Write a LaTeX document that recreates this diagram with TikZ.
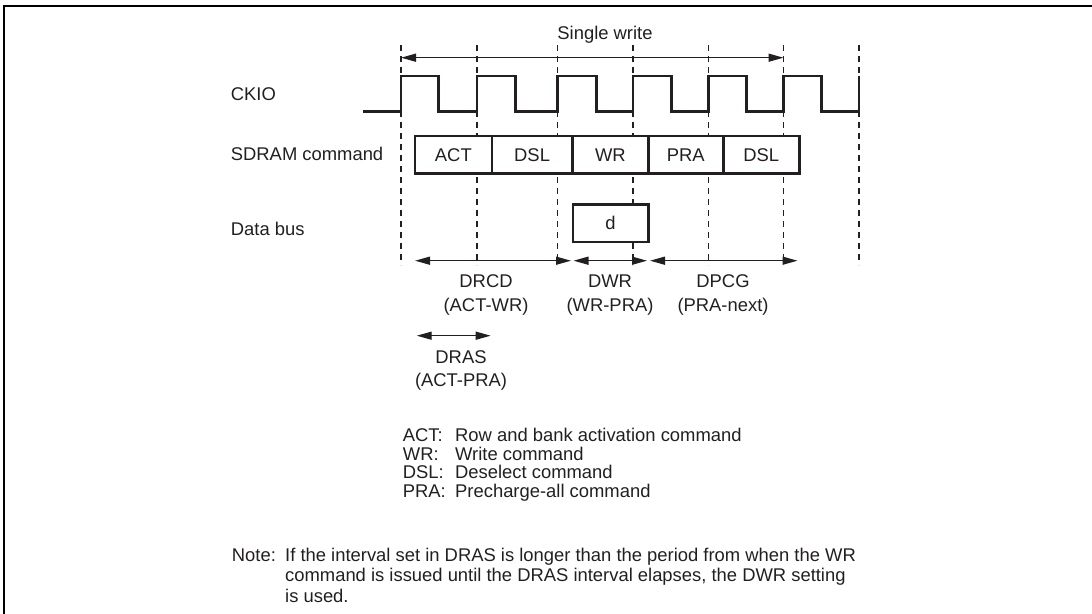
\documentclass[tikz,border=0pt]{standalone}
\usepackage{fontspec}
\setmainfont{Liberation Sans}
\usetikzlibrary{arrows.meta}
\definecolor{ink}{HTML}{231F20}
\begin{document}
\begin{tikzpicture}[x=1pt,y=-1pt,
  txt/.style={font=\fontsize{18.4}{20}\selectfont, inner sep=0pt, text=ink},
  lbl/.style={txt, anchor=base west},
  clab/.style={txt, anchor=base},
  cell/.style={draw=ink, line width=2.4pt, fill=white, minimum height=37.3pt, inner sep=0pt, font=\fontsize{18.4}{20}\selectfont, text=ink},
  guide/.style={draw=ink, line width=1.2pt, dash pattern=on 6pt off 5pt},
  wave/.style={draw=ink, line width=2.5pt, line join=miter},
  dim/.style={draw=ink, line width=1.4pt, {Triangle[length=15pt,width=8pt]}-{Triangle[length=15pt,width=8pt]}},
  frame/.style={draw=black, line width=2.2pt}
]
\useasboundingbox (0,0) rectangle (1092,613);
\clip (0,0) rectangle (1092,613);
\draw[frame] (4,6) rectangle (1110,630);

% guide lines
\foreach \x in {401,477,557.5,633,708.3,783.5,859}
  \draw[guide] (\x,45) -- (\x,265);

% clock
\draw[wave] (363,111.7) -- (401,111.7) -- (401,76) -- (438.3,76) -- (438.3,111.7)
  -- (477,111.7) -- (477,76) -- (515.7,76) -- (515.7,111.7)
  -- (557.5,111.7) -- (557.5,76) -- (596.7,76) -- (596.7,111.7)
  -- (633,111.7) -- (633,76) -- (671.7,76) -- (671.7,111.7)
  -- (708.3,111.7) -- (708.3,76) -- (746.7,76) -- (746.7,111.7)
  -- (783.5,111.7) -- (783.5,76) -- (821.7,76) -- (821.7,111.7)
  -- (859,111.7) -- (859,76);

% single write
\coordinate (sw1) at (401,57.7);
\coordinate (sw2) at (783.5,57.7);
\draw[dim] (sw1) -- (sw2);
\node[clab] (swl) at (605,39.5) {Single write};

% signal labels
\node[lbl] (ckio) at (230.7,100.5) {CKIO};
\node[lbl] (sdram) at (230.7,160.5) {SDRAM command};
\node[lbl] (dbus) at (230.7,235) {Data bus};

% command cells
\node[cell, minimum width=76.7pt] (cACT) at (453.35,154.7) {ACT};
\node[cell, minimum width=80.8pt] (cDSLa) at (532.1,154.7) {DSL};
\node[cell, minimum width=75.8pt] (cWR) at (610.4,154.7) {WR};
\node[cell, minimum width=75pt] (cPRA) at (685.8,154.7) {PRA};
\node[cell, minimum width=76pt] (cDSLb) at (761.3,154.7) {DSL};

% data
\node[cell, minimum width=75.6pt, minimum height=37.7pt] (dat) at (610.5,223.2) {d};

% interval arrows
\coordinate (a1) at (415,260.7);
\coordinate (a2) at (571,260.7);
\coordinate (b1) at (573.5,260.7);
\coordinate (b2) at (647,260.7);
\coordinate (c1) at (650,260.7);
\coordinate (c2) at (797.5,260.7);
\draw[dim] (a1) -- (a2);
\draw[dim] (b1) -- (b2);
\draw[dim] (c1) -- (c2);
\node[clab] (drcd) at (486,287.3) {DRCD};
\node[clab] (drcd2) at (486,311) {(ACT-WR)};
\node[clab] (dwr) at (610,287.3) {DWR};
\node[clab] (dwr2) at (610,311) {(WR-PRA)};
\node[clab] (dpcg) at (723,287.3) {DPCG};
\node[clab] (dpcg2) at (723,311) {(PRA-next)};

\coordinate (r1) at (416.7,335.7);
\coordinate (r2) at (490.7,335.7);
\draw[dim] (r1) -- (r2);
\node[clab] (dras) at (461,363) {DRAS};
\node[clab] (dras2) at (461,386.7) {(ACT-PRA)};

% legend
\node[lbl] (k1) at (402.7,441.5) {ACT:};
\node[lbl] (v1) at (455,441.5) {Row and bank activation command};
\node[lbl] (k2) at (402.7,460) {WR:};
\node[lbl] (v2) at (455,460) {Write command};
\node[lbl] (k3) at (402.7,478.5) {DSL:};
\node[lbl] (v3) at (455,478.5) {Deselect command};
\node[lbl] (k4) at (402.7,497) {PRA:};
\node[lbl] (v4) at (455,497) {Precharge-all command};

% note
\node[lbl] (nt) at (231.7,561) {Note:};
\node[lbl] (n1) at (285,561) {If the interval set in DRAS is longer than the period from when the WR};
\node[lbl] (n2) at (285,581.5) {command is issued until the DRAS interval elapses, the DWR setting};
\node[lbl] (n3) at (285,602) {is used.};
\end{tikzpicture}
\end{document}
